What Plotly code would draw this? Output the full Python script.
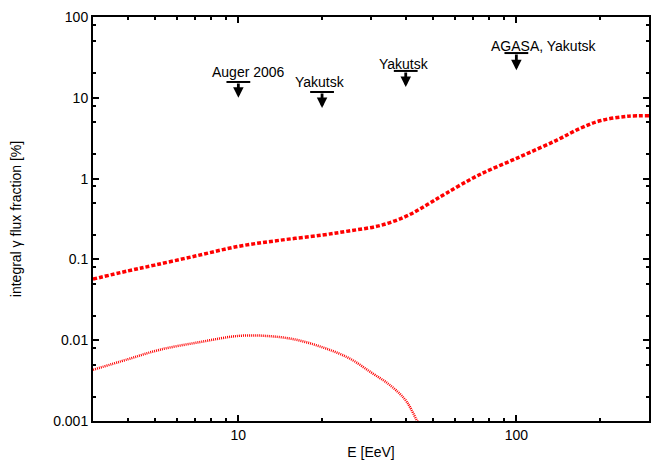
import numpy as np
import plotly.graph_objects as go

# energia [EeV] e fração integral de fótons [%]
energia_sup = [3, 4, 5, 7, 10, 14, 20, 25, 32, 40, 48, 56, 73, 103, 140, 170, 200, 250, 300]
fracao_sup = [0.057, 0.072, 0.085, 0.11, 0.145, 0.172, 0.20, 0.225, 0.26, 0.34, 0.48, 0.66, 1.1, 1.86, 3.0, 4.2, 5.2, 5.9, 6.0]

energia_inf = [3, 4, 5.2, 7.3, 10, 12.6, 16, 20, 25, 30, 35, 40, 44, 48]
fracao_inf = [0.0043, 0.0058, 0.0076, 0.0095, 0.0113, 0.0113, 0.0102, 0.0082, 0.006, 0.0040, 0.0028, 0.0018, 0.001, 0.0006]

# limites superiores (barra e ponta da seta)
limite_energia = [10, 20, 40, 100]
limite_valor = [15.7, 11.8, 21.5, 35.8]
limite_ponta = [10, 7.5, 13.6, 22]
limite_texto = ["Auger 2006", "Yakutsk", "Yakutsk", "AGASA, Yakutsk"]
texto_desloc = [(10, 0), (-2, 0), (-2, -3), (28, -3)]

y_ticks = [0.001, 0.01, 0.1, 1, 10, 100]
y_tick_labels = ["0.001", "0.01", "0.1", "1", "10", "100"]
y_minor = [m * d for d in [0.001, 0.01, 0.1, 1, 10] for m in (2, 5, 8)]
x_ticks = [10, 100]
x_tick_labels = ["10", "100"]
x_minor = [m * d for d in [1, 10] for m in range(2, 10) if 3 < m * d < 300 and m * d not in (10, 100)] + [200]

fonte = "Liberation Sans, Arial, sans-serif"

fig = go.Figure()

fig.add_trace(go.Scatter(
    x=energia_sup, y=fracao_sup, mode="lines",
    line=dict(color="#ff0000", width=3.5, dash="4px,2px", shape="spline"),
    showlegend=False,
))
fig.add_trace(go.Scatter(
    x=energia_inf, y=fracao_inf, mode="lines",
    line=dict(color="#ff0000", width=2.5, dash="1px,1px", shape="spline"),
    showlegend=False,
))

# barras horizontais dos limites
fig.add_trace(go.Scatter(
    x=limite_energia, y=limite_valor, mode="markers",
    marker=dict(symbol="line-ew", size=17, line=dict(color="black", width=2)),
    showlegend=False,
))

for e, v, p, t, (dx, dy) in zip(limite_energia, limite_valor, limite_ponta, limite_texto, texto_desloc):
    fig.add_annotation(
        x=np.log10(e), y=np.log10(p), ax=np.log10(e), ay=np.log10(v),
        xref="x", yref="y", axref="x", ayref="y",
        text="", showarrow=True, arrowhead=2, arrowsize=0.75, arrowwidth=2.8, arrowcolor="black",
    )
    fig.add_annotation(
        x=np.log10(e), y=np.log10(v), xref="x", yref="y",
        text=t, showarrow=False, yanchor="bottom", xshift=dx, yshift=dy,
        font=dict(size=14, color="black", family=fonte),
    )

eixo = dict(
    showline=True, linecolor="black", linewidth=2, mirror="ticks",
    ticks="inside", ticklen=6, tickwidth=1.5, tickcolor="black",
    showgrid=False, zeroline=False, automargin=False,
    tickfont=dict(size=14, color="black", family=fonte),
)

# a página tem margem de 8px no body
fig.update_layout(
    width=656, height=457,
    margin=dict(l=85, r=15, t=9, b=44),
    plot_bgcolor="white", paper_bgcolor="white",
    xaxis=dict(
        eixo, type="log", range=[np.log10(3), np.log10(300)],
        tickmode="array", tickvals=x_ticks, ticktext=x_tick_labels,
        minor=dict(tickmode="array", tickvals=x_minor, ticks="inside", ticklen=3, tickwidth=1.5, tickcolor="black"),
        title=dict(text="E [EeV]", font=dict(size=14, color="black", family=fonte), standoff=5),
    ),
    yaxis=dict(
        eixo, type="log", range=[-3, 2],
        tickmode="array", tickvals=y_ticks, ticktext=y_tick_labels,
        minor=dict(tickmode="array", tickvals=y_minor, ticks="inside", ticklen=3, tickwidth=1.5, tickcolor="black"),
        title=dict(text="integral γ flux fraction [%]", font=dict(size=14, color="black", family=fonte), standoff=28),
    ),
)

fig.write_html("out.html")
